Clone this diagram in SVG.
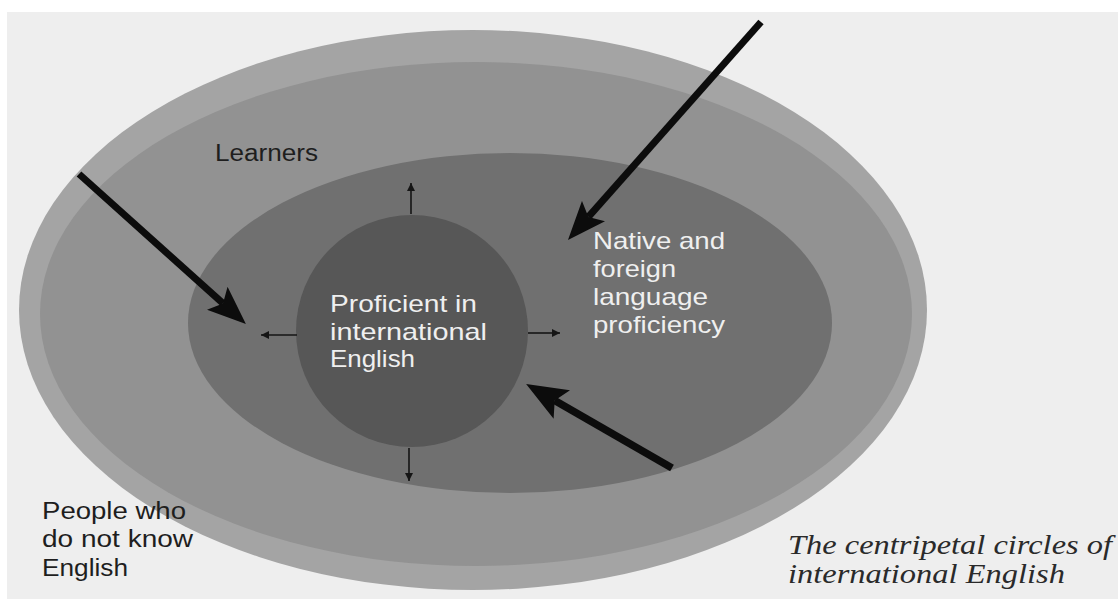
<svg xmlns="http://www.w3.org/2000/svg" width="1118" height="599" viewBox="0 0 1118 599">
<style>
.sans{font-family:"Liberation Sans","Arial",sans-serif;}
.dark{fill:#1e1e1e;font-size:23px;}
.light{fill:#efefef;font-size:24px;}
.cap{font-family:"Liberation Serif","DejaVu Serif",serif;font-style:italic;font-size:27px;fill:#2a2a2a;}
.big{stroke:#0c0c0c;stroke-width:7;fill:none;}
.small{stroke:#151515;stroke-width:1.6;fill:none;}
</style>
<defs>
<marker id="bighead" viewBox="0 0 10 8" refX="2" refY="4" markerWidth="5.5" markerHeight="4.4" orient="auto" markerUnits="strokeWidth">
<path d="M0,0 L10,4 L0,8 L2,4 Z" fill="#0c0c0c"/>
</marker>
<marker id="smallhead" viewBox="0 0 10 10" refX="10" refY="5" markerWidth="6" markerHeight="5" orient="auto" markerUnits="strokeWidth">
<path d="M0,0 L10,5 L0,10 Z" fill="#151515"/>
</marker>
</defs>
<rect x="0" y="0" width="1118" height="599" fill="#ffffff"/>
<rect x="7" y="12" width="1111" height="587" fill="#eeeeee"/>

<g id="outer-circle">
<ellipse cx="473" cy="310" rx="454" ry="280" fill="#a4a4a4"/>
<text class="sans dark"><tspan x="42" y="519" textLength="144" lengthAdjust="spacingAndGlyphs">People who</tspan><tspan x="42" y="547" textLength="151" lengthAdjust="spacingAndGlyphs">do not know</tspan><tspan x="42" y="576" textLength="86" lengthAdjust="spacingAndGlyphs">English</tspan></text>
</g>

<g id="learners-circle">
<ellipse cx="476" cy="314" rx="436" ry="252" fill="#929292"/>
<text class="sans dark" x="215" y="161" textLength="103" lengthAdjust="spacingAndGlyphs">Learners</text>
</g>

<g id="native-foreign-circle">
<ellipse cx="510" cy="323" rx="322" ry="170" fill="#707070"/>
<text class="sans light"><tspan x="593" y="249" textLength="132" lengthAdjust="spacingAndGlyphs">Native and</tspan><tspan x="593" y="277" textLength="83" lengthAdjust="spacingAndGlyphs">foreign</tspan><tspan x="593" y="305" textLength="115" lengthAdjust="spacingAndGlyphs">language</tspan><tspan x="593" y="333" textLength="132" lengthAdjust="spacingAndGlyphs">proficiency</tspan></text>
</g>

<g id="proficient-core">
<circle cx="412" cy="331" r="116" fill="#575757"/>
<text class="sans light"><tspan x="330" y="312" textLength="147" lengthAdjust="spacingAndGlyphs">Proficient in</tspan><tspan x="330" y="340" textLength="157" lengthAdjust="spacingAndGlyphs">international</tspan><tspan x="330" y="367" textLength="85" lengthAdjust="spacingAndGlyphs">English</tspan></text>
</g>

<g id="connectors">
<line class="big" x1="79" y1="174" x2="223" y2="303.4" marker-end="url(#bighead)"/>
<line class="big" x1="761" y1="22" x2="588.4" y2="216.9" marker-end="url(#bighead)"/>
<line class="big" style="stroke-width:7.5" x1="672" y1="468" x2="554.7" y2="400.4" marker-end="url(#bighead)"/>
<line class="small" x1="411" y1="214" x2="411" y2="183" marker-end="url(#smallhead)"/>
<line class="small" x1="297" y1="335" x2="261" y2="335" marker-end="url(#smallhead)"/>
<line class="small" x1="528" y1="333" x2="560" y2="333" marker-end="url(#smallhead)"/>
<line class="small" x1="409" y1="448" x2="409" y2="481" marker-end="url(#smallhead)"/>
</g>

<g id="caption">
<text class="cap" x="788" y="554" textLength="324" lengthAdjust="spacingAndGlyphs">The centripetal circles of</text>
<text class="cap" x="788" y="583" textLength="277" lengthAdjust="spacingAndGlyphs">international English</text>
</g>
</svg>
